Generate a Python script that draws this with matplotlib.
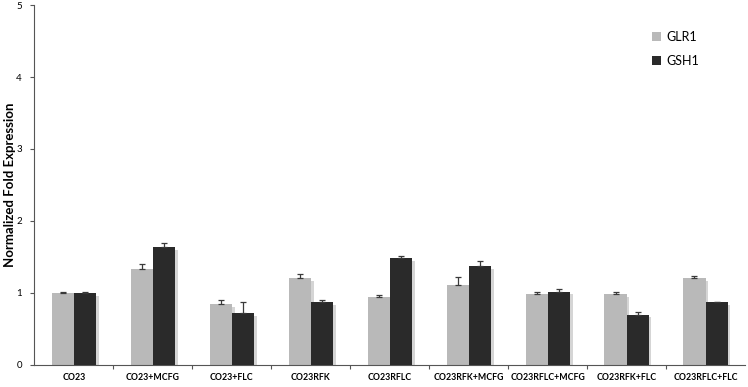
import matplotlib
matplotlib.use("Agg")
import matplotlib.pyplot as plt
import matplotlib.patheffects as pe
import numpy as np

plt.rcParams['font.family'] = ['Lato', 'DejaVu Sans']

categories = ["CO23", "CO23+MCFG", "CO23+FLC", "CO23RFK", "CO23RFLC",
              "CO23RFK+MCFG", "CO23RFLC+MCFG", "CO23RFK+FLC", "CO23RFLC+FLC"]
glr1 = [1.00, 1.33, 0.85, 1.21, 0.95, 1.11, 0.98, 0.98, 1.21]
glr1_err = [0.01, 0.07, 0.05, 0.05, 0.02, 0.11, 0.03, 0.03, 0.03]
gsh1 = [1.00, 1.64, 0.72, 0.87, 1.48, 1.37, 1.02, 0.70, 0.87]
gsh1_err = [0.01, 0.06, 0.16, 0.03, 0.03, 0.07, 0.03, 0.03, 0.01]
yticks = [0, 1, 2, 3, 4, 5]

fig = plt.figure(figsize=(7.48, 3.87), dpi=100)
ax = fig.add_axes([0.046, 0.057, 0.950, 0.930])

x = np.arange(len(categories))
w = 0.28
shadow = [pe.SimplePatchShadow(offset=(2, -2), shadow_rgbFace='#777777', alpha=0.3), pe.Normal()]
b1 = ax.bar(x - w/2, glr1, w, color='#b9b9b9', label='GLR1', zorder=2)
b2 = ax.bar(x + w/2, gsh1, w, color='#2a2a2a', label='GSH1', zorder=3)
for b in list(b1) + list(b2):
    b.set_path_effects(shadow)
ax.errorbar(x - w/2, glr1, yerr=[np.zeros(len(glr1)), glr1_err], fmt='none',
            ecolor='#3a3a3a', elinewidth=0.9, capsize=2.5, capthick=0.9, zorder=4)
ax.errorbar(x + w/2, gsh1, yerr=[np.zeros(len(gsh1)), gsh1_err], fmt='none',
            ecolor='#3a3a3a', elinewidth=0.9, capsize=2.5, capthick=0.9, zorder=4)

ax.set_xlim(-0.5, len(categories) - 0.5)
ax.set_ylim(0, 5)
ax.set_yticks(yticks)
ax.set_yticklabels([str(t) for t in yticks], fontsize=7)
ax.set_xticks(x)
ax.set_xticklabels(categories, fontsize=6.3, fontweight='bold')
ax.tick_params(axis='x', length=0, pad=6)
ax.set_xticks(np.arange(0.5, len(categories) - 0.5, 1), minor=True)
ax.tick_params(axis='x', which='minor', length=3, width=0.8, direction='out', color='#555555')
ax.tick_params(axis='y', length=3, width=0.8, direction='out', color='#555555', pad=6)
for s in ['top', 'right']:
    ax.spines[s].set_visible(False)
for s in ['left', 'bottom']:
    ax.spines[s].set_color('#555555')
    ax.spines[s].set_linewidth(0.8)
ax.set_ylabel('Normalized Fold Expression', fontsize=9.5, fontweight='bold')
ax.yaxis.set_label_coords(-0.026, 0.5)

leg = ax.legend(loc='upper left', bbox_to_anchor=(0.853, 0.96), frameon=False, fontsize=9,
                handlelength=0.7, handleheight=0.7, labelspacing=1.0, handletextpad=0.5)
for h in leg.legend_handles:
    h.set_path_effects([])

fig.savefig('out.png', dpi=100)
